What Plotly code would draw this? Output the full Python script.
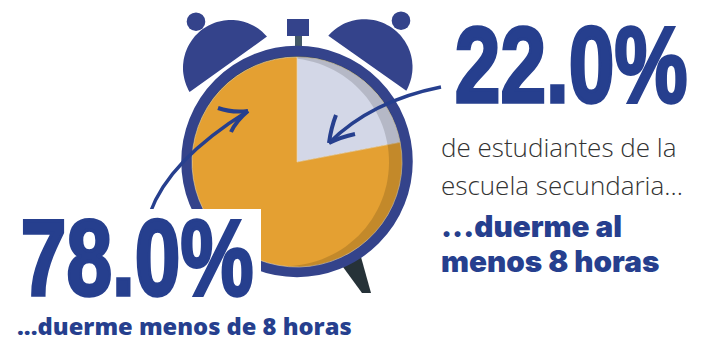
import numpy as np
import plotly.graph_objects as go

W, H = 703, 341

# Share of students by hours of sleep
sleep_labels = ["Al menos 8 horas", "Menos de 8 horas"]
sleep_shares = [22.0, 78.0]
slice_colors = ["#D3D7E7", "#E4A032"]

headline_low = "78.0%"
headline_high = "22.0%"
caption_low = "...duerme menos de 8 horas"
intro_lines = ["de estudiantes de la", "escuela secundaria..."]
caption_high = ["...duerme al", "menos 8 horas"]

NAVY = "#34438B"
TEXT_BLUE = "#263F8E"
GREY_TEXT = "#333333"
CX, CY, R = 297, 162, 105


def poly(points):
    return "M " + " L ".join(f"{x:.1f},{y:.1f}" for x, y in points) + " Z"


def arc(cx, cy, r, a0, a1, n=60):
    t = np.radians(np.linspace(a0, a1, n))
    return list(zip(cx + r * np.cos(t), cy + r * np.sin(t)))


def circle(cx, cy, r, **kw):
    return dict(type="circle", x0=cx - r, x1=cx + r, y0=cy - r, y1=cy + r, xref="x", yref="y", **kw)


def filled(path, color, layer="below", opacity=1):
    return dict(type="path", path=path, xref="x", yref="y", fillcolor=color,
                line=dict(width=0), layer=layer, opacity=opacity)


def stroke(path, color=TEXT_BLUE, width=3.4, layer="above"):
    return dict(type="path", path=path, xref="x", yref="y", line=dict(color=color, width=width), layer=layer)


shapes = [
    # Foot, stem and crown
    filled(poly([(343, 267), (361, 257), (371, 293), (362, 293)]), "#263238"),
    dict(type="rect", x0=295, x1=302, y0=35, y1=48, xref="x", yref="y", fillcolor="#455A68", line=dict(width=0), layer="below"),
    dict(type="rect", x0=287, x1=309, y0=19, y1=36, xref="x", yref="y", fillcolor=NAVY, line=dict(width=0), layer="below"),
    # Bells and their knobs
    filled(poly(arc(230.8, 67.8, 47.8, -40.7, -210.4)), NAVY),
    filled(poly(arc(364.5, 67.2, 48, -139, 29.5)), NAVY),
    circle(196, 21.7, 9.3, fillcolor=NAVY, line=dict(width=0), layer="below"),
    circle(401, 20.7, 9.3, fillcolor=NAVY, line=dict(width=0), layer="below"),
    # Clock rim
    circle(297, 161.5, 110.5, fillcolor="#2B3A42", line=dict(color=NAVY, width=10.5), layer="below"),
    # Small gaps where the bells meet the rim
    stroke("M 227,68 L 229.5,64.5", color="white", width=1, layer="below"),
    stroke("M 365,64.5 L 367.5,68", color="white", width=1, layer="below"),
    # Shaded crescent along the right of the clock face
    filled(poly(arc(CX, CY, R, -90, 94) + arc(285, 162, 104, 93, -83)), "#000000", layer="above", opacity=0.14),
    # Arrow running into the orange slice
    stroke("M 150,213 Q 169,160 248,111"),
    stroke("M 218,108 Q 232,113 248,111", width=4),
    stroke("M 231,132 Q 236,121 248,111", width=4),
    # Patch behind the left headline
    dict(type="rect", x0=0, x1=261, y0=209, y1=341, xref="x", yref="y", fillcolor="white", line=dict(width=0), layer="above"),
    # Arrow running into the pale slice
    stroke("M 441,87 Q 371,101 329,143"),
    stroke("M 336,115 Q 331,128 329,143", width=4),
    stroke("M 355,134 Q 341,137 329,143", width=4),
]

fig = go.Figure()
fig.add_trace(go.Scatter(x=[0, W], y=[0, H], mode="markers", marker=dict(opacity=0), hoverinfo="skip", showlegend=False))
fig.add_trace(go.Pie(
    labels=sleep_labels,
    values=sleep_shares,
    sort=False,
    direction="clockwise",
    rotation=0,
    marker=dict(colors=slice_colors, line=dict(color="#EBD9B8", width=0.6)),
    textinfo="none",
    hoverinfo="label+percent",
    showlegend=False,
    domain=dict(x=[(CX - R) / W, (CX + R) / W], y=[1 - (CY + R) / H, 1 - (CY - R) / H]),
))


def note(x, y, text, size, color, family, weight=400, xanchor="left", yanchor="middle"):
    return dict(x=x, y=y, xref="x", yref="y", text=text, showarrow=False, xanchor=xanchor, yanchor=yanchor,
                font=dict(size=size, color=color, family=family, weight=weight), borderpad=0, borderwidth=0)


HEAVY = "Liberation Sans"
annotations = [
    note(137, 318, headline_low, 108, TEXT_BLUE, HEAVY, 700, xanchor="center", yanchor="bottom"),
    note(570.5, 125, headline_high, 108, TEXT_BLUE, HEAVY, 700, xanchor="center", yanchor="bottom"),
    note(17, 326, caption_low, 23.7, TEXT_BLUE, "Open Sans", 800),
    note(441, 147, intro_lines[0], 26, GREY_TEXT, "Open Sans", 300),
    note(441, 185, intro_lines[1], 26, GREY_TEXT, "Open Sans", 300),
    note(441, 226, caption_high[0], 29.7, TEXT_BLUE, "Inter", 900),
    note(441, 261, caption_high[1], 29.7, TEXT_BLUE, "Inter", 900),
]

axis = dict(visible=False, fixedrange=True)
fig.update_layout(
    width=W, height=H, margin=dict(l=0, r=0, t=0, b=0),
    paper_bgcolor="white", plot_bgcolor="white",
    xaxis=dict(range=[0, W], **axis),
    yaxis=dict(range=[H, 0], **axis),
    shapes=shapes, annotations=annotations,
)

# Condense and thicken the two large headline figures
condense = """
document.querySelectorAll('.annotation-text').forEach(function (t) {
  if (t.textContent.length === 5) {
    var x = parseFloat(t.getAttribute('x'));
    t.setAttribute('transform', 'translate(' + x + ',0) scale(0.76,1) translate(' + (-x) + ',0)');
    t.style.stroke = '#263F8E';
    t.style.strokeWidth = '3.5px';
  }
});
"""
fig.write_html("out.html", config=dict(displayModeBar=False), post_script=condense)
